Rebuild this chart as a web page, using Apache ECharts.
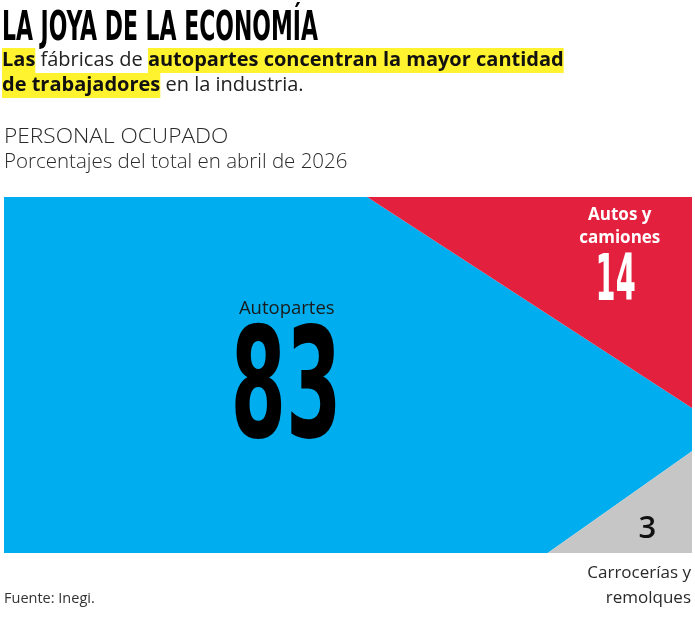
<!DOCTYPE html>
<html>
<head>
<meta charset="utf-8">
<script src="https://cdn.jsdelivr.net/npm/echarts@6/dist/echarts.min.js"></script>
<style>
  html, body { margin: 0; padding: 0; background: #fff; }
  #main { width: 695px; height: 620px; }
</style>
</head>
<body>
<div id="main"></div>
<script>
// datos: personal ocupado, % del total en abril de 2026
const categories = ['Autopartes', 'Autos y camiones', 'Carrocerías y remolques'];
const values = [83, 14, 3];
const colors = ['#00aeef', '#e3203e', '#c6c6c6'];

const chart = echarts.init(document.getElementById('main'));

const NARROW = "'Liberation Sans Narrow', 'DejaVu Sans Condensed', sans-serif";
const SANS = "'Open Sans', 'Noto Sans', sans-serif";

// catetos de los triángulos de las esquinas (proporción alto/ancho)
const slope = [0, 1.256, 1.364];
function legs(i) {
    const a = Math.sqrt(2 * (values[i] / 100) / slope[i]);
    return [a, a * slope[i]];
}

function renderItem(params, api) {
    const i = params.dataIndex;
    const [ar, br] = legs(1);
    const [ag, bg] = legs(2);
    let pts;
    if (i === 0) {
        pts = [[0, 0], [1 - ag, 0], [1, bg], [1, 1 - br], [1 - ar, 1], [0, 1]];
    } else if (i === 1) {
        pts = [[1 - ar, 1], [1, 1], [1, 1 - br]];
    } else {
        pts = [[1 - ag, 0], [1, 0], [1, bg]];
    }
    const children = [{
        type: 'polygon',
        shape: { points: pts.map(p => api.coord(p)) },
        style: { fill: colors[i] }
    }];
    if (i === 0) {
        const p1 = api.coord([0.411, 0.685]);
        const p2 = api.coord([0.41, 0.438]);
        children.push({
            type: 'text', x: p1[0], y: p1[1],
            style: { text: categories[0], font: '18.5px ' + SANS, fill: '#1a1a1a', align: 'center', verticalAlign: 'middle' }
        }, {
            type: 'text', x: p2[0], y: p2[1], scaleX: 0.58,
            style: { text: String(values[0]), font: 'bold 153px ' + NARROW, fill: '#000', align: 'center', verticalAlign: 'middle' }
        });
    } else if (i === 1) {
        const p1 = api.coord([0.895, 0.917]);
        const p2 = api.coord([0.889, 0.758]);
        children.push({
            type: 'text', x: p1[0], y: p1[1],
            style: { text: 'Autos y\ncamiones', font: 'bold 17px ' + SANS, lineHeight: 23, fill: '#fff', align: 'center', verticalAlign: 'middle' }
        }, {
            type: 'text', x: p2[0], y: p2[1], scaleX: 0.5,
            style: { text: String(values[1]), font: 'bold 64px ' + NARROW, fill: '#fff', align: 'center', verticalAlign: 'middle' }
        });
    } else {
        const p1 = api.coord([0.935, 0.066]);
        children.push({
            type: 'text', x: p1[0], y: p1[1],
            style: { text: String(values[2]), font: '600 31px ' + SANS, fill: '#111', align: 'center', verticalAlign: 'middle' }
        });
    }
    return { type: 'group', children: children };
}

const option = {
    animation: false,
    grid: { left: 4, top: 197, width: 688, height: 356 },
    xAxis: { type: 'value', min: 0, max: 1, show: false },
    yAxis: { type: 'value', min: 0, max: 1, show: false },
    series: [{
        type: 'custom',
        renderItem: renderItem,
        data: values.map((v, i) => [i, v])
    }],
    graphic: [
        {
            type: 'text', x: 2, y: 29, scaleX: 0.595,
            style: { text: 'LA JOYA DE LA ECONOMÍA', font: 'bold 41px ' + NARROW, fill: '#000', verticalAlign: 'middle' }
        },
        {
            type: 'text', x: 2, y: 48,
            style: {
                text: '{h|Las} {n|fábricas de} {h|autopartes concentran la mayor cantidad}\n{h|de trabajadores} {n|en la industria.}',
                font: '20px ' + SANS,
                fill: '#1a1a1a',
                rich: {
                    h: { font: 'bold 20px ' + SANS, fill: '#111', backgroundColor: '#fff22e', lineHeight: 25, height: 25 },
                    n: { font: '20px ' + SANS, fill: '#222', lineHeight: 25, height: 25 }
                }
            }
        },
        {
            type: 'text', x: 4, y: 137, scaleX: 1.08,
            style: { text: 'PERSONAL OCUPADO', font: '300 21px ' + SANS, fill: '#2a2a2a', verticalAlign: 'middle' }
        },
        {
            type: 'text', x: 4, y: 162,
            style: { text: 'Porcentajes del total en abril de 2026', font: '300 20.5px ' + SANS, fill: '#2a2a2a', verticalAlign: 'middle' }
        },
        {
            type: 'text', x: 691, y: 586,
            style: { text: 'Carrocerías y\nremolques', font: '17px ' + SANS, lineHeight: 25, fill: '#2a2a2a', align: 'right', verticalAlign: 'middle' }
        },
        {
            type: 'text', x: 4, y: 599,
            style: { text: 'Fuente: Inegi.', font: '14.5px ' + SANS, fill: '#333', verticalAlign: 'middle' }
        }
    ]
};

chart.setOption(option);
</script>
</body>
</html>
